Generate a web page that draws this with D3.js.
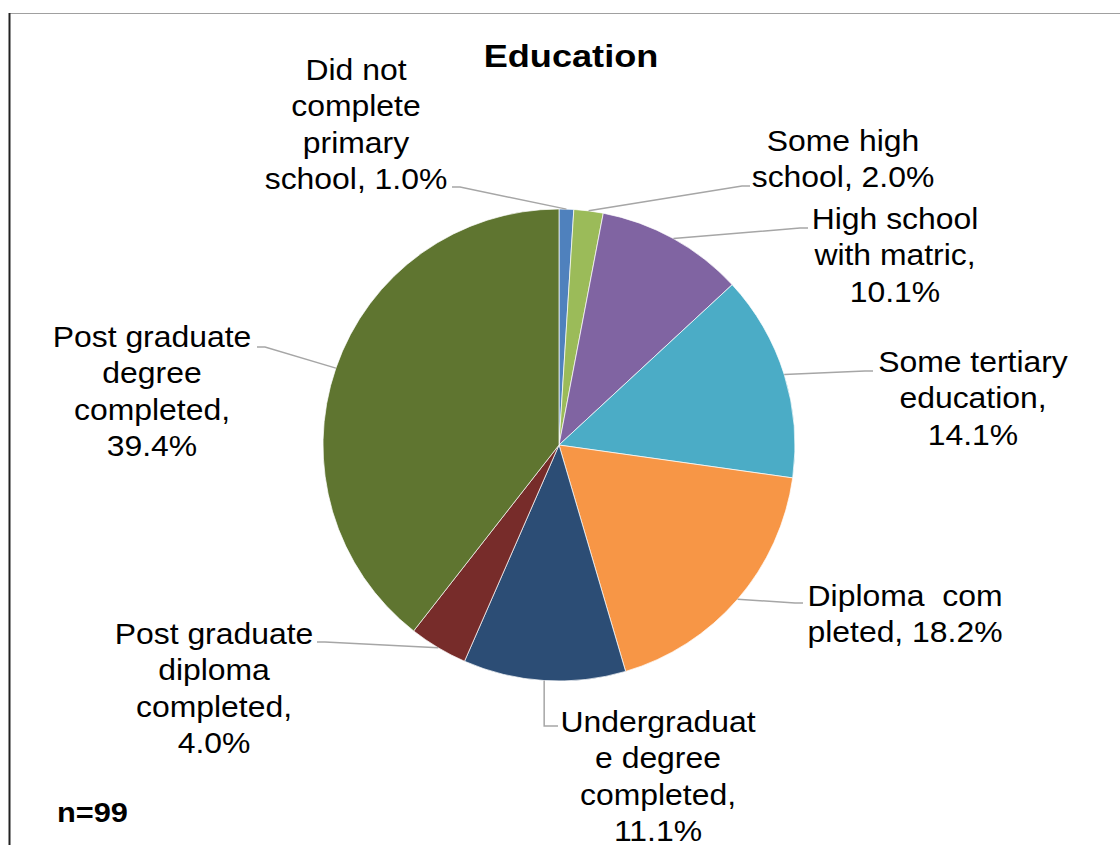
<!DOCTYPE html>
<html>
<head>
<meta charset="utf-8">
<script src="https://cdn.jsdelivr.net/npm/d3@7"></script>
<style>
  html, body { margin: 0; padding: 0; background: #fff; }
  svg { display: block; }
  text { font-family: "Liberation Sans", Arial, sans-serif; fill: #000; }
</style>
</head>
<body>
<svg id="chart" width="1120" height="845"></svg>
<script>
// Education level of respondents (percent of n = 99)
const categories = [
  "Did not complete primary school",
  "Some high school",
  "High school with matric",
  "Some tertiary education",
  "Diploma completed",
  "Undergraduate degree completed",
  "Post graduate diploma completed",
  "Post graduate degree completed"
];
const percents = [1.0, 2.0, 10.1, 14.1, 18.2, 11.1, 4.0, 39.4];
// Label text as wrapped in the chart
const labelLines = [
  ["Did not", "complete", "primary", "school, 1.0%"],
  ["Some high", "school, 2.0%"],
  ["High school", "with matric,", "10.1%"],
  ["Some tertiary", "education,", "14.1%"],
  ["Diploma\u00a0\u00a0com", "pleted, 18.2%"],
  ["Undergraduat", "e degree", "completed,", "11.1%"],
  ["Post graduate", "diploma", "completed,", "4.0%"],
  ["Post graduate", "degree", "completed,", "39.4%"]
];
const colors = ["#4f81bd", "#9bbb59", "#8064a2", "#4bacc6", "#f79646", "#2c4d75", "#772c2a", "#5f7530"];

// Label layout: text block centre / first baseline, and leader end point
const labelLayout = [
  { cx: 356, y: 80,  lx: 452, ly: 187, side: "left" },
  { cx: 843, y: 151, lx: 750, ly: 186, side: "right" },
  { cx: 895, y: 229, lx: 808, ly: 228, side: "right" },
  { cx: 973, y: 372, lx: 873, ly: 371, side: "right" },
  { cx: 905, y: 606, lx: 803, ly: 603, side: "right" },
  { cx: 658, y: 732, lx: 558, ly: 726, side: "down" },
  { cx: 214, y: 644, lx: 317, ly: 642, side: "left" },
  { cx: 152, y: 347, lx: 257, ly: 347, side: "left" }
];

const svg = d3.select("#chart");
const cx = 559, cy = 445, R = 236;
const lineH = 36.5;

// Frame lines
svg.append("line").attr("x1", 10).attr("x2", 1120).attr("y1", 13.5).attr("y2", 13.5)
  .attr("stroke", "#a0a0a0").attr("stroke-width", 1.2);
svg.append("line").attr("x1", 9.5).attr("x2", 9.5).attr("y1", 13).attr("y2", 845)
  .attr("stroke", "#222").attr("stroke-width", 2);

// Title
svg.append("text")
  .attr("transform", "translate(571,67) scale(1.13,1)")
  .attr("text-anchor", "middle")
  .style("font-size", "32px").style("font-weight", "bold")
  .text("Education");

// Pie
const pie = d3.pie().sort(null).value(d => d).startAngle(0).endAngle(2 * Math.PI);
const arcs = pie(percents);
const arc = d3.arc().innerRadius(0).outerRadius(R);
const edge = d3.arc().innerRadius(R).outerRadius(R);

const g = svg.append("g").attr("transform", `translate(${cx},${cy})`);
g.selectAll("path.slice").data(arcs).join("path")
  .attr("class", "slice")
  .attr("d", arc)
  .attr("fill", (d, i) => colors[i])
  .attr("stroke", "#fff").attr("stroke-width", 0.7);

// Leader lines
const leaders = svg.append("g").attr("fill", "none")
  .attr("stroke", "#a6a6a6").attr("stroke-width", 1.5);
arcs.forEach((a, i) => {
  const [ex, ey] = edge.centroid(a);
  const sx = cx + ex, sy = cy + ey;
  const L = labelLayout[i];
  let pts;
  if (L.side === "down") {
    pts = [[sx, sy], [sx, L.ly], [L.lx, L.ly]];
  } else {
    const ox = L.side === "right" ? -8 : 8;
    pts = [[sx, sy], [L.lx + ox, L.ly], [L.lx, L.ly]];
  }
  leaders.append("path").attr("d", d3.line()(pts));
});

// Data labels
labelLines.forEach((lines, i) => {
  const L = labelLayout[i];
  const t = svg.append("text")
    .attr("transform", `translate(${L.cx},${L.y}) scale(1.1,1)`)
    .attr("text-anchor", "middle")
    .style("font-size", "29px");
  lines.forEach((s, k) => {
    t.append("tspan").attr("x", 0).attr("y", k * lineH).text(s);
  });
});

// Sample size note
svg.append("text")
  .attr("transform", "translate(57,822) scale(1.14,1)")
  .style("font-size", "27px").style("font-weight", "bold")
  .text("n=99");
</script>
</body>
</html>
